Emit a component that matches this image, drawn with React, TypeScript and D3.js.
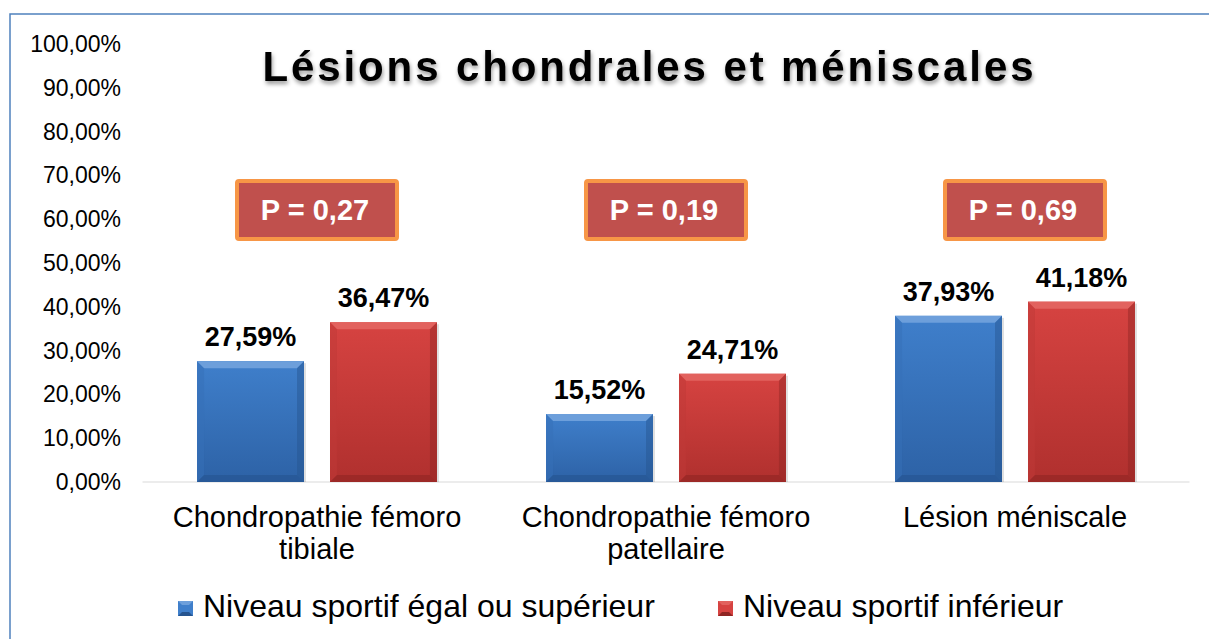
import React, { useEffect, useRef } from 'react';
import * as d3 from 'd3';

const categories = [['Chondropathie fémoro', 'tibiale'], ['Chondropathie fémoro', 'patellaire'], ['Lésion méniscale']];
const seriesNames = ['Niveau sportif égal ou supérieur', 'Niveau sportif inférieur'];
const superieur = [27.59, 15.52, 37.93];
const inferieur = [36.47, 24.71, 41.18];
const pValues = ['P = 0,27', 'P = 0,19', 'P = 0,69'];
const pOffsets = [0, 0, 10];
const yTicks = [0, 10, 20, 30, 40, 50, 60, 70, 80, 90, 100];

const W = 1209;
const H = 639;
const FONT = 'Liberation Sans, Arial, sans-serif';

const palettes = [
  { top: '#6d9fdb', mid: '#3f7fcb', bot: '#2d62a6', side: '#3570b8', bevelBot: '#25548f' },
  { top: '#e2625e', mid: '#d64341', bot: '#b0302e', side: '#c03937', bevelBot: '#8f2523' },
];

const fmt = (v: number) => v.toFixed(2).replace('.', ',') + '%';

const App = () => {
  const svgRef = useRef<SVGSVGElement>(null);

  useEffect(() => {
    const svg = d3.select(svgRef.current);
    svg.selectAll('*').remove();

    const defs = svg.append('defs');
    palettes.forEach((p, i) => {
      const g = defs.append('linearGradient').attr('id', `grad${i}`).attr('x1', 0).attr('y1', 0).attr('x2', 0).attr('y2', 1);
      g.append('stop').attr('offset', '0%').attr('stop-color', p.mid);
      g.append('stop').attr('offset', '100%').attr('stop-color', p.bot);
    });
    const f = defs.append('filter').attr('id', 'shadow').attr('x', '-10%').attr('y', '-30%').attr('width', '120%').attr('height', '160%');
    f.append('feDropShadow').attr('dx', 1).attr('dy', 3).attr('stdDeviation', 2).attr('flood-color', '#000').attr('flood-opacity', 0.4);

    // frame
    svg.append('path')
      .attr('d', `M10,${H + 5} L10,14 L${W + 5},14`)
      .attr('fill', 'none')
      .attr('stroke', '#4f81bd')
      .attr('stroke-width', 1.5);

    const x = d3.scaleBand<number>().domain(d3.range(categories.length)).range([142.5, 1189.5]).padding(0);
    const xs = d3.scaleBand<number>().domain([0, 1]).range([0, x.bandwidth()]).paddingInner(0.1955).paddingOuter(0.41);
    const y = d3.scaleLinear().domain([0, 100]).range([482, 44]);

    // baseline
    svg.append('line')
      .attr('x1', x.range()[0]).attr('x2', x.range()[1])
      .attr('y1', y(0)).attr('y2', y(0))
      .attr('stroke', '#e6e6e6').attr('stroke-width', 1.5);

    // y ticks
    svg.append('g').selectAll('text').data(yTicks).enter().append('text')
      .attr('x', 121).attr('y', d => y(d)).attr('dy', '0.35em')
      .attr('text-anchor', 'end')
      .style('font-family', FONT).style('font-size', '23px')
      .attr('fill', '#000')
      .text(d => d.toFixed(2).replace('.', ',') + '%');

    // title
    svg.append('text')
      .attr('x', 648).attr('y', 81)
      .attr('text-anchor', 'middle')
      .attr('textLength', 771).attr('lengthAdjust', 'spacing')
      .style('font-family', FONT).style('font-size', '42px').style('font-weight', 'bold')
      .attr('fill', '#000').attr('filter', 'url(#shadow)')
      .text('Lésions chondrales et méniscales');

    const series = [superieur, inferieur];
    const bev = 7;
    series.forEach((vals, si) => {
      const p = palettes[si];
      vals.forEach((v, ci) => {
        const bx = x(ci)! + xs(si)!;
        const bw = xs.bandwidth();
        const by = y(v);
        const bh = y(0) - by;
        const g = svg.append('g');
        g.append('rect').attr('x', bx + 2).attr('y', by + 2).attr('width', bw).attr('height', bh - 2).attr('fill', '#000').attr('opacity', 0.12);
        g.append('rect').attr('x', bx).attr('y', by).attr('width', bw).attr('height', bh).attr('fill', `url(#grad${si})`);
        // bevels
        g.append('polygon').attr('points', `${bx},${by} ${bx + bw},${by} ${bx + bw - bev},${by + bev} ${bx + bev},${by + bev}`).attr('fill', p.top);
        g.append('polygon').attr('points', `${bx},${by} ${bx + bev},${by + bev} ${bx + bev},${by + bh - bev} ${bx},${by + bh}`).attr('fill', p.side).attr('opacity', 0.5);
        g.append('polygon').attr('points', `${bx + bw},${by} ${bx + bw - bev},${by + bev} ${bx + bw - bev},${by + bh - bev} ${bx + bw},${by + bh}`).attr('fill', p.bevelBot).attr('opacity', 0.45);
        g.append('polygon').attr('points', `${bx},${by + bh} ${bx + bev},${by + bh - bev} ${bx + bw - bev},${by + bh - bev} ${bx + bw},${by + bh}`).attr('fill', p.bevelBot).attr('opacity', 0.6);
        // value label
        svg.append('text')
          .attr('x', bx + bw / 2).attr('y', by - 15)
          .attr('text-anchor', 'middle')
          .style('font-family', FONT).style('font-size', '27px').style('font-weight', 'bold')
          .attr('fill', '#000')
          .text(fmt(v));
      });
    });

    // P boxes
    pValues.forEach((pv, ci) => {
      const cx = x(ci)! + x.bandwidth() / 2 + pOffsets[ci];
      const bw = 160, bh = 58, by = 181;
      svg.append('rect')
        .attr('x', cx - bw / 2).attr('y', by).attr('width', bw).attr('height', bh)
        .attr('rx', 2)
        .attr('fill', '#c0504d').attr('stroke', '#f79646').attr('stroke-width', 4);
      svg.append('text')
        .attr('x', cx - 2).attr('y', by + bh / 2).attr('dy', '0.36em')
        .attr('text-anchor', 'middle')
        .style('font-family', FONT).style('font-size', '29px').style('font-weight', 'bold')
        .attr('fill', '#fff')
        .text(pv);
    });

    // category labels
    categories.forEach((lines, ci) => {
      const t = svg.append('text')
        .attr('text-anchor', 'middle')
        .style('font-family', FONT).style('font-size', '29px')
        .attr('fill', '#000');
      lines.forEach((l, li) => {
        t.append('tspan').attr('x', x(ci)! + x.bandwidth() / 2).attr('y', 527 + li * 32).text(l);
      });
    });

    // legend
    const legendX = [178, 718];
    seriesNames.forEach((name, si) => {
      const p = palettes[si];
      const lx = legendX[si];
      svg.append('rect').attr('x', lx).attr('y', 601).attr('width', 15).attr('height', 15).attr('fill', p.mid);
      svg.append('polygon').attr('points', `${lx},601 ${lx + 15},601 ${lx + 11},605 ${lx + 4},605`).attr('fill', p.top);
      svg.append('polygon').attr('points', `${lx},616 ${lx + 15},616 ${lx + 11},612 ${lx + 4},612`).attr('fill', p.bevelBot);
      svg.append('text')
        .attr('x', lx + 25).attr('y', 617)
        .style('font-family', FONT).style('font-size', '32px')
        .attr('fill', '#000')
        .text(name);
    });
  }, []);

  return (
    <svg ref={svgRef} width={W} height={H} style={{ position: 'absolute', left: 0, top: 0, background: '#fff' }} />
  );
};

export default App;
